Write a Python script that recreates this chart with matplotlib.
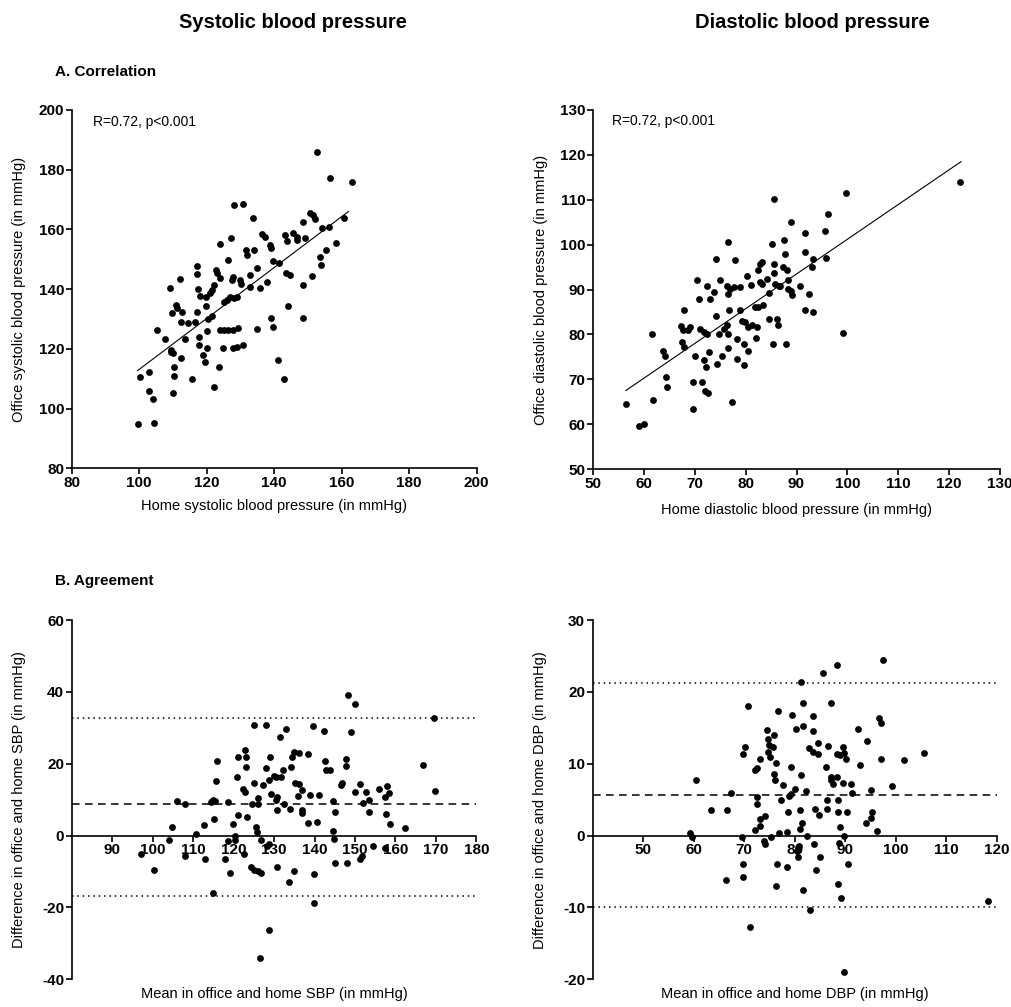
import matplotlib
matplotlib.use("Agg")
import matplotlib.pyplot as plt
import numpy as np

plt.rcParams['font.family'] = ['Liberation Sans', 'DejaVu Sans']
plt.rcParams['axes.unicode_minus'] = False

# ---------------- data ----------------
# A. Correlation, systolic (home, office)
sbp_home = [99.5,104.5,100.2,103,103,104,105.2,107.7,109.1,109.8,110.8,111.3,109.5,110,109.3,110.4,110.3,110.1,
            112,112.3,112.8,112.4,113.7,114.4,115.7,116.5,117.2,117.1,117.3,117.2,118,117.8,117.8,119,119.6,119.7,
            119.7,120,120.3,120.2,121,121.5,122.3,121.6,122.2,122.7,123,124,123.8,123.7,124,125,124.7,126.4,126.4,
            127.9,129.4,125.1,126,126.9,128.1,128.9,127.1,127.4,127.9,129.9,130.2,128.1,130.9,127.9,129.1,130.9,
            131.6,131.9,132.8,132.8,133.8,134,134.8,134.8,135.8,136.3,137.3,138,138.8,139,139,139.6,139.5,141.2,
            141.5,143,143.3,143.8,143.5,144.8,144.2,145.7,146.9,146.7,149.2,148.4,148.4,148.6,150.6,151.6,152.1,
            151.3,152.6,153.6,153.8,154.1,156.1,155.3,156.5,158.3,160.7,163]
sbp_office = [94.8,95.3,110.5,112.4,105.9,103.2,126.3,123.4,140.5,131.9,134.8,133.6,119,118.5,119.6,114,110.9,105.3,
              143.4,117.1,132.4,128.9,123.4,128.6,109.8,128.9,147.8,145,140,132.4,137.7,123.9,121.3,118,115.7,134.5,
              137.5,126.1,129.9,120.2,138.6,139.7,141.4,131,107.1,146.4,145.3,143.9,155,114,126.4,126.3,120.4,149.8,
              126.3,126.3,126.9,135.8,136.4,137.5,136.9,137.5,157,143,144.2,143,141.6,168.2,168.5,120.2,120.5,121.3,
              153.1,151.4,144.7,140.6,163.7,153.1,147,126.5,140.5,158.5,157.6,142.5,154.8,153.7,130.2,127.4,149.4,
              116.3,148.6,109.8,158.2,156,145.5,144.7,134.3,158.9,157.6,156.4,157,141.4,130.2,162.6,165.4,164.8,
              163.4,144.4,186,150.9,148.1,160.4,160.7,153.1,177.1,155.6,163.7,176]
sbp_fit_x = [99.5, 162.0]
sbp_fit_y = [112.7, 166.0]

# A. Correlation, diastolic (home, office)
dbp_home = [56.4,58.9,60.0,61.8,61.6,63.8,64.1,64.4,64.6,67.9,67.3,67.7,68.7,69.0,67.5,67.9,69.6,69.6,70.0,70.4,
            70.8,71.0,71.7,72.3,71.3,72.0,72.5,71.8,72.7,72.2,72.3,73.0,73.8,74.2,74.1,74.4,74.8,75.0,75.3,75.8,
            76.3,76.6,76.5,76.3,76.5,76.6,76.9,76.8,77.4,77.8,77.7,78.9,78.2,78.2,78.9,79.2,79.9,79.7,79.7,80.2,
            80.5,80.5,81.2,82.2,81.0,81.8,82.4,83.5,82.0,82.5,82.8,83.3,82.8,83.2,84.5,84.5,84.2,85.5,85.2,85.5,
            85.3,85.6,85.8,86.5,86.8,86.1,86.3,87.5,87.7,87.4,88.1,88.0,88.3,88.4,89.0,89.1,89.0,90.6,91.7,91.7,
            91.7,93.3,92.5,93.0,93.3,95.6,95.8,96.2,99.2,99.7,122.2]
dbp_office = [64.4,59.5,60.1,65.5,80.0,76.4,75.3,70.5,68.4,85.5,81.8,80.9,80.9,81.6,78.3,77.2,69.4,63.4,75.3,92.1,
              88.0,81.3,80.5,80.1,69.4,67.5,66.9,74.2,76.1,72.7,90.9,88.0,89.4,84.0,96.9,73.5,80.1,92.1,75.3,81.3,
              82.0,80.1,77.0,90.9,100.6,89.1,90.2,85.5,64.9,96.5,90.6,90.6,79.0,74.6,85.5,83.1,82.8,77.9,73.1,93.0,
              76.4,81.6,82.2,81.6,91.1,86.1,86.2,86.6,79.3,94.3,95.8,96.1,91.7,91.3,83.5,89.2,92.4,95.8,100.1,110.1,
              77.9,93.6,91.3,90.9,90.9,83.5,82.0,101.0,98.0,95.0,94.3,77.9,92.1,90.2,89.7,88.7,105.1,90.7,102.5,98.4,
              85.5,85.0,89.1,95.0,96.9,103.0,97.1,106.9,80.4,111.5,114.0]
dbp_fit_x = [56.4, 122.4]
dbp_fit_y = [67.5, 118.5]

# B. Agreement, systolic (mean, difference)
sbp_mean = [97.2,100.3,104,104.9,105.9,108.1,108.1,110.8,112.7,113,114.3,114.9,115.3,114.9,115.1,115.7,115.9,117.8,
            118.5,118.6,119,119.9,120.3,120.4,120.9,121.1,121.1,122.3,122.8,122.8,123,123,123.2,122.5,124.2,125.1,
            126.1,126.7,124.5,125.1,125.1,125.5,125.7,126.1,126.1,126.6,126.7,127.3,127.9,128.1,128.3,128.7,128.8,
            128.8,129.1,129.3,129.9,130.6,130.6,130.8,130.7,130.8,131.4,131.6,132.2,132.5,133,133.7,133.9,134.3,
            134.5,135,134.9,135.1,136.1,135.9,136.1,136.8,136.9,136.9,138.4,138.4,138.8,139.6,139.8,139.8,140.5,
            141,142.3,142.5,142.9,143.8,144.6,144.6,144.9,145,145,146.5,146.7,147.8,147.8,148,148.3,149.1,150.1,
            150.1,151.2,151.2,151.8,152,152.7,153.4,153.4,154.4,156,157.3,157.4,157.6,158,158.4,158.6,162.3,166.8,
            169.5,169.7]
sbp_diff = [-5.1,-9.6,-1.2,2.3,9.5,8.8,-5.6,0.5,3,-6.5,9.3,9.8,9.6,-16.1,4.5,15.1,20.7,-6.5,-1.6,9.3,-10.5,3.1,-1.2,
            0,16.3,21.9,5.8,13.1,12.1,23.9,22,19.1,5.3,-5.1,-8.8,-9.6,-9.8,-10.5,8.7,30.7,14.6,2.3,0.9,8.8,10.4,-34,
            -1.2,14.2,30.9,18.8,-2.8,-2.3,-26.2,15.5,21.9,11.6,16.7,16.3,9.8,10.7,7.2,-8.8,27.3,16.3,18.3,8.7,29.8,
            -13,7.3,19.1,21.9,23.3,-9.8,14.6,14.4,10.9,23.1,12.8,7.2,6.3,22.8,3.4,11.2,30.4,-18.9,-10.7,3.7,11.4,
            29.1,20.7,18.3,18.3,9.5,1.4,-0.9,6.5,-7.6,14,14.7,21.4,19.3,-7.6,39.1,28.8,36.7,12.1,14.4,-6.5,-5.6,9.1,
            12.1,10,6.7,-3,13,-3.5,10.7,5.9,13.8,11.8,3.3,2,19.7,32.6,12.3]
sbp_bias = 8.7
sbp_loa = [32.8, -16.9]

# B. Agreement, diastolic (mean, difference)
dbp_mean = [59.3,59.7,60.4,63.5,66.3,66.5,67.4,69.6,69.7,70.1,69.8,69.7,70.8,71.1,72.1,72.1,72.6,73.1,72.6,72.6,
            73.1,73.2,73.9,74.1,74.0,74.4,74.7,74.9,74.6,75.0,75.2,75.6,75.8,75.9,76.0,76.2,76.4,76.3,76.7,76.9,
            77.2,77.7,78.5,78.5,78.7,78.9,79.2,79.2,79.4,80.0,80.2,80.5,80.7,80.8,81.0,81.0,81.2,81.2,81.5,81.6,
            81.7,81.6,82.2,82.5,82.8,83.5,84.5,83.5,83.6,83.8,83.9,84.1,83.0,84.5,84.8,84.9,85.6,86.1,86.4,86.4,
            86.6,87.1,87.2,87.2,87.6,88.3,88.4,88.9,88.4,88.6,88.6,88.6,88.7,88.9,89.2,89.5,89.7,89.6,89.7,89.7,
            90.1,90.3,90.5,91.2,91.4,92.4,92.9,94.0,94.2,95.0,95.2,95.0,96.3,96.7,97.0,97.0,97.5,99.3,101.5,105.6,
            118.3]
dbp_diff = [0.3,-0.2,7.8,3.5,-6.2,3.6,5.9,-0.2,11.3,12.3,-4.0,-5.7,18.1,-12.7,0.8,9.1,9.4,10.7,5.3,4.4,2.3,1.3,
            -0.7,-1.2,2.7,14.7,13.4,12.6,11.6,10.9,-0.2,12.3,14.0,8.6,7.7,10.1,-4.0,-7.0,17.3,0.3,4.9,7.1,-4.4,0.5,
            3.3,5.5,5.8,9.6,16.8,6.5,14.9,-2.1,-3.0,-1.4,3.5,0.9,21.4,8.4,1.7,15.3,18.4,-7.6,6.2,-0.1,12.2,11.6,
            11.3,16.6,14.6,-1.2,3.7,-4.8,-10.3,12.9,2.8,-3.0,22.6,9.6,3.7,4.9,12.4,8.2,7.7,18.4,7.2,8.1,11.4,11.2,
            23.8,5.0,3.3,-6.7,-1.0,1.2,-8.7,12.3,11.5,7.3,-19.0,0.0,10.7,3.3,-4.0,7.2,5.9,14.9,9.8,1.8,13.1,6.4,
            3.3,2.4,0.7,16.3,15.7,10.6,24.5,6.9,10.5,11.5,-9.1]
dbp_bias = 5.7
dbp_loa = [21.3, -9.9]

# ---------------- figure ----------------
W, H = 1011, 1007
fig = plt.figure(figsize=(W / 100, H / 100), dpi=100)


def rect(left, top, right, bottom):
    return [left / W, 1 - bottom / H, (right - left) / W, (bottom - top) / H]


lab_fs = 10.5
mk = dict(s=24, c='black', marker='o', linewidths=0, zorder=3)


def style(ax):
    for s in ['top', 'right']:
        ax.spines[s].set_visible(False)
    for s in ['left', 'bottom']:
        ax.spines[s].set_linewidth(1.2)
    ax.tick_params(direction='out', length=4, width=1.2, pad=1.5)
    for lab in ax.get_xticklabels() + ax.get_yticklabels():
        lab.set_fontsize(11)
        lab.set_fontweight('bold')


# A - SBP
ax1 = fig.add_axes(rect(71.7, 110, 476.7, 468.3))
ax1.scatter(sbp_home, sbp_office, **mk)
ax1.plot(sbp_fit_x, sbp_fit_y, color='black', lw=0.8)
ax1.set_xlim(80, 200)
ax1.set_ylim(80, 200)
ax1.set_xticks(np.arange(80, 201, 20))
ax1.set_yticks(np.arange(80, 201, 20))
style(ax1)
ax1.set_xlabel('Home systolic blood pressure (in mmHg)', fontsize=lab_fs)
ax1.xaxis.set_label_coords(0.5, -0.085)
ax1.set_ylabel('Office systolic blood pressure (in mmHg)', fontsize=lab_fs)
ax1.yaxis.set_label_coords(-0.112, 0.5)

# A - DBP
ax2 = fig.add_axes(rect(593.3, 110, 999.7, 469.1))
ax2.scatter(dbp_home, dbp_office, **mk)
ax2.plot(dbp_fit_x, dbp_fit_y, color='black', lw=0.8)
ax2.set_xlim(50, 130)
ax2.set_ylim(50, 130)
ax2.set_xticks(np.arange(50, 131, 10))
ax2.set_yticks(np.arange(50, 131, 10))
style(ax2)
ax2.set_xlabel('Home diastolic blood pressure (in mmHg)', fontsize=lab_fs)
ax2.xaxis.set_label_coords(0.5, -0.095)
ax2.set_ylabel('Office diastolic blood pressure (in mmHg)', fontsize=lab_fs)
ax2.yaxis.set_label_coords(-0.112, 0.5)

# B - SBP
ax3 = fig.add_axes(rect(71.7, 620, 476.4, 979.3))
ax3.scatter(sbp_mean, sbp_diff, **mk)
ax3.axhline(sbp_bias, color='black', lw=1.1, ls=(0, (5, 3.5)), zorder=2)
for v in sbp_loa:
    ax3.axhline(v, color='black', lw=1.1, ls=(0, (1, 2.5)), zorder=2)
ax3.set_xlim(80, 180)
ax3.set_ylim(-40, 60)
ax3.set_xticks(np.arange(90, 181, 10))
ax3.set_yticks(np.arange(-40, 61, 20))
ax3.spines['bottom'].set_position(('data', 0))
style(ax3)
ax3.set_xlabel('Mean in office and home SBP (in mmHg)', fontsize=lab_fs)
ax3.xaxis.set_label_coords(0.5, -0.022)
ax3.set_ylabel('Difference in office and home SBP (in mmHg)', fontsize=lab_fs)
ax3.yaxis.set_label_coords(-0.112, 0.5)

# B - DBP
ax4 = fig.add_axes(rect(592.7, 620, 997, 979.3))
ax4.scatter(dbp_mean, dbp_diff, **mk)
ax4.axhline(dbp_bias, color='black', lw=1.1, ls=(0, (5, 3.5)), zorder=2)
for v in dbp_loa:
    ax4.axhline(v, color='black', lw=1.1, ls=(0, (1, 2.5)), zorder=2)
ax4.set_xlim(40, 120)
ax4.set_ylim(-20, 30)
ax4.set_xticks(np.arange(50, 121, 10))
ax4.set_yticks(np.arange(-20, 31, 10))
ax4.spines['bottom'].set_position(('data', 0))
style(ax4)
ax4.set_xlabel('Mean in office and home DBP (in mmHg)', fontsize=lab_fs)
ax4.xaxis.set_label_coords(0.5, -0.022)
ax4.set_ylabel('Difference in office and home DBP (in mmHg)', fontsize=lab_fs)
ax4.yaxis.set_label_coords(-0.112, 0.5)

# Titles and annotations
fig.text(293 / W, 1 - 22 / H, 'Systolic blood pressure', ha='center', va='center',
         fontsize=14.5, fontweight='bold')
fig.text(812 / W, 1 - 22 / H, 'Diastolic blood pressure', ha='center', va='center',
         fontsize=14.5, fontweight='bold')
fig.text(55 / W, 1 - 72 / H, 'A. Correlation', ha='left', va='center', fontsize=11, fontweight='bold')
fig.text(55 / W, 1 - 581 / H, 'B. Agreement', ha='left', va='center', fontsize=11, fontweight='bold')
fig.text(93 / W, 1 - 122 / H, 'R=0.72, p<0.001', ha='left', va='center', fontsize=10)
fig.text(612 / W, 1 - 121 / H, 'R=0.72, p<0.001', ha='left', va='center', fontsize=10)

fig.savefig('out.png', dpi=100)
